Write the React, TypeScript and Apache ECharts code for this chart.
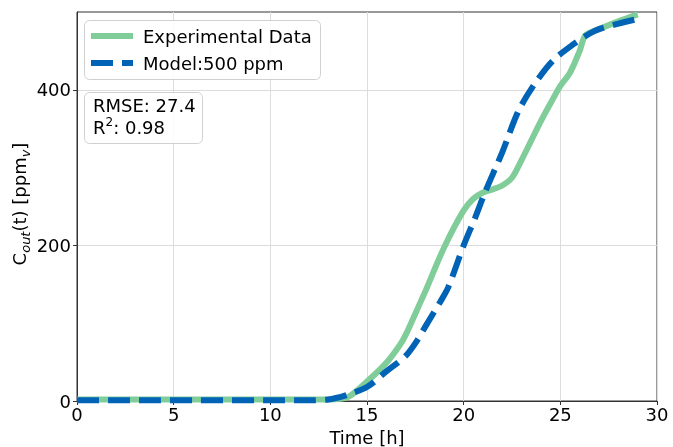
import React, { useEffect, useRef } from "react";
import * as echarts from "echarts";

const expTime = [0, 2, 4, 6, 8, 10, 12, 13, 14, 15, 16, 16.7, 17, 17.8, 18, 19, 20, 20.5, 21, 21.5, 22, 22.5, 23, 23.5, 24, 24.5, 25, 25.5, 26, 26.3, 27, 28, 29];
const expValues = [2, 2, 2, 2, 2, 2, 2, 2, 5, 25, 49, 72, 85, 129, 140, 198, 245, 260, 268, 272, 277, 287, 310, 335, 360, 383, 405, 422, 450, 470, 478, 488, 497];

const modelTime = [0, 2, 4, 6, 8, 10, 12, 13, 13.6, 14, 15, 16, 17, 17.6, 18, 18.8, 19.2, 20, 20.6, 21.1, 22, 22.8, 23.6, 24.6, 25.7, 26.5, 27, 28, 29];
const modelValues = [1, 1, 1, 1, 1, 1, 1, 2, 5, 8, 18, 38, 58, 78, 95, 128, 146, 200, 236, 268, 320, 371, 405, 437, 459, 472, 478, 485, 491];

const xTicks = [0, 5, 10, 15, 20, 25, 30];
const yTicks = [0, 200, 400];

const seriesNames = ["Experimental Data", "Model:500 ppm"];
const rmseText = "RMSE: 27.4";
const r2Text = "0.98";

const FONT = "DejaVu Sans";
const GREEN = "#80CD99";
const BLUE = "#0063B6";

export default function App() {
  const ref = useRef<HTMLDivElement>(null);
  useEffect(() => {
    if (!ref.current) return;
    const chart = echarts.init(ref.current, null, { renderer: "svg" });
    const expData = expTime.map((t, i) => [t, expValues[i]]);
    const modelData = modelTime.map((t, i) => [t, modelValues[i]]);
    chart.setOption({
      animation: false,
      textStyle: { fontFamily: FONT },
      grid: {
        left: 77,
        top: 12,
        width: 580,
        height: 389,
        containLabel: false,
        outerBoundsMode: "none",
        show: true,
        borderColor: "#333",
        borderWidth: 1,
        backgroundColor: "transparent",
      },
      xAxis: {
        type: "value",
        min: 0,
        max: 30,
        interval: 5,
        name: "Time [h]",
        nameLocation: "middle",
        nameGap: 27,
        nameTextStyle: { fontSize: 18, color: "#000", fontFamily: FONT },
        axisLine: { show: true, lineStyle: { color: "#333" } },
        axisTick: { show: true, length: 4, lineStyle: { color: "#333" }, customValues: xTicks },
        axisLabel: { fontSize: 18, color: "#000", margin: 4, fontFamily: FONT, customValues: xTicks },
        splitLine: { show: true, lineStyle: { color: "#dcdcdc", width: 1 } },
      },
      yAxis: {
        type: "value",
        min: 0,
        max: 500,
        interval: 200,
        axisLine: { show: true, lineStyle: { color: "#333" } },
        axisTick: { show: true, length: 4, lineStyle: { color: "#333" }, customValues: yTicks },
        axisLabel: { fontSize: 18, color: "#000", margin: 6, fontFamily: FONT, customValues: yTicks },
        splitLine: { show: true, lineStyle: { color: "#dcdcdc", width: 1 } },
      },
      series: [
        {
          name: seriesNames[0],
          type: "line",
          data: expData,
          smooth: 0.3,
          showSymbol: false,
          symbol: "none",
          lineStyle: { color: GREEN, width: 6 },
          itemStyle: { color: GREEN },
          z: 2,
        },
        {
          name: seriesNames[1],
          type: "line",
          data: modelData,
          smooth: 0.3,
          showSymbol: false,
          symbol: "none",
          lineStyle: { color: BLUE, width: 6, type: [22, 9] },
          itemStyle: { color: BLUE },
          z: 3,
        },
      ],
      graphic: [
        {
          type: "text",
          x: 19,
          y: 204,
          rotation: Math.PI / 2,
          style: {
            text: "{a|C}{s|out}{a|(t) [ppm}{s|v}{a|]}",
            align: "center",
            verticalAlign: "middle",
            fill: "#000",
            rich: {
              a: { fontSize: 18, fontFamily: FONT, fill: "#000", lineHeight: 26, verticalAlign: "middle" },
              s: { fontSize: 13, fontFamily: FONT, fontStyle: "italic", fill: "#000", lineHeight: 26, verticalAlign: "bottom" },
            },
          },
        },
        // legend box
        {
          type: "rect",
          shape: { x: 84.5, y: 20.5, width: 236, height: 59, r: 5 },
          style: { fill: "rgba(255,255,255,0.85)", stroke: "#d0d0d0", lineWidth: 1 },
          z: 10,
        },
        {
          type: "line",
          shape: { x1: 91, y1: 36, x2: 133, y2: 36 },
          style: { stroke: GREEN, lineWidth: 6 },
          z: 11,
        },
        {
          type: "line",
          shape: { x1: 91, y1: 63, x2: 133, y2: 63 },
          style: { stroke: BLUE, lineWidth: 6, lineDash: [22, 9] },
          z: 11,
        },
        {
          type: "text",
          x: 143,
          y: 36,
          z: 11,
          style: { text: seriesNames[0], fontSize: 18, fontFamily: FONT, fill: "#000", verticalAlign: "middle" },
        },
        {
          type: "text",
          x: 143,
          y: 63,
          z: 11,
          style: { text: seriesNames[1], fontSize: 18, fontFamily: FONT, fill: "#000", verticalAlign: "middle" },
        },
        // stats box
        {
          type: "rect",
          shape: { x: 84.5, y: 92.5, width: 118, height: 51, r: 5 },
          style: { fill: "rgba(255,255,255,0.85)", stroke: "#d0d0d0", lineWidth: 1 },
          z: 10,
        },
        {
          type: "text",
          x: 93,
          y: 94,
          z: 11,
          style: {
            text: "{a|" + rmseText + "}\n{a|R}{p|2}{a|: " + r2Text + "}",
            fill: "#000",
            rich: {
              a: { fontSize: 18, fontFamily: FONT, fill: "#000", lineHeight: 22 },
              p: { fontSize: 12, fontFamily: FONT, fill: "#000", lineHeight: 22, verticalAlign: "top" },
            },
          },
        },
      ],
    });
    return () => chart.dispose();
  }, []);
  return <div ref={ref} style={{ position: "fixed", left: 0, top: 0, width: 673, height: 447 }} />;
}
